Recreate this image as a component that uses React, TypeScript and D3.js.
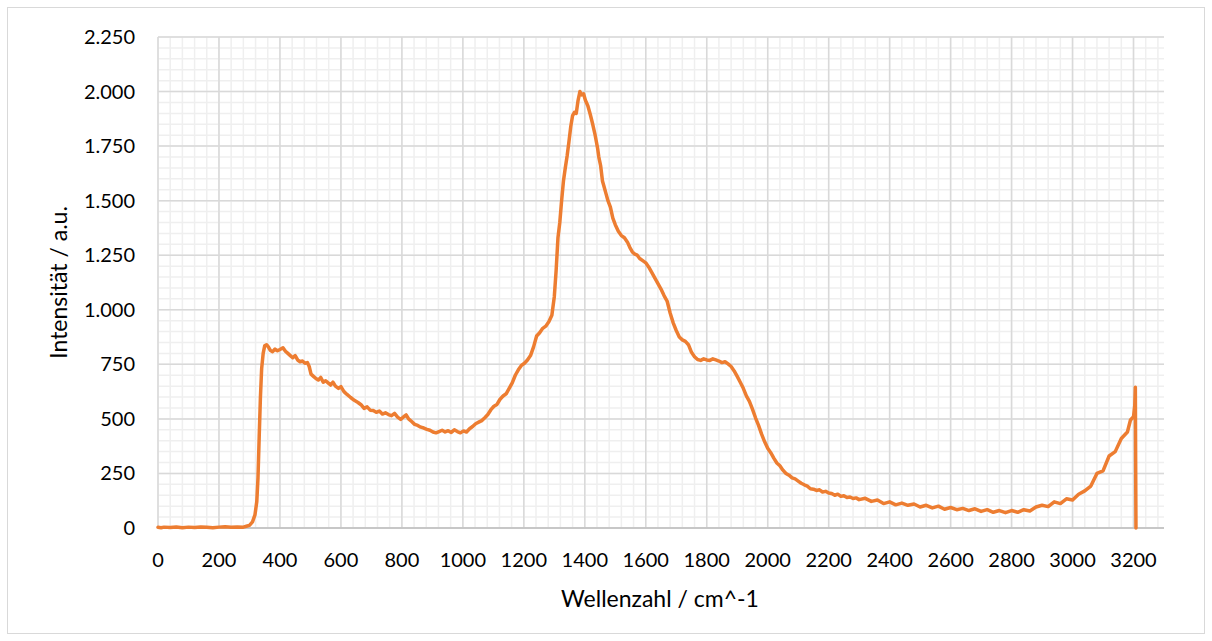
import React from "react";
import * as d3 from "d3";

const wavenumbers: number[] = [
  0, 10, 20, 40, 60, 80, 100, 120, 140, 160, 180, 200, 220, 240, 260, 280, 290, 300, 310, 318,
  324, 328, 332, 336, 340, 345, 350, 356, 362, 368, 376, 384, 392, 400, 410, 418, 426, 434, 442, 450,
  458, 466, 474, 482, 490, 496, 502, 510, 518, 526, 534, 542, 550, 558, 566, 574, 582, 592, 600, 610,
  620, 632, 644, 656, 666, 676, 686, 696, 706, 716, 726, 736, 746, 756, 766, 776, 786, 796, 806, 814,
  822, 832, 842, 852, 862, 872, 882, 892, 902, 912, 922, 932, 942, 952, 962, 972, 982, 992, 1002, 1012,
  1022, 1032, 1042, 1052, 1062, 1072, 1082, 1092, 1102, 1112, 1122, 1132, 1142, 1152, 1162, 1172, 1182, 1192, 1202, 1212,
  1222, 1232, 1242, 1252, 1262, 1272, 1282, 1292, 1300, 1306, 1312, 1318, 1324, 1330, 1336, 1342, 1348, 1354, 1360, 1366,
  1372, 1378, 1384, 1390, 1396, 1402, 1410, 1418, 1426, 1434, 1442, 1446, 1452, 1458, 1464, 1470, 1476, 1484, 1492, 1500,
  1510, 1520, 1530, 1540, 1548, 1556, 1564, 1572, 1580, 1590, 1600, 1610, 1620, 1630, 1640, 1650, 1660, 1670, 1680, 1690,
  1700, 1710, 1720, 1730, 1740, 1750, 1760, 1770, 1780, 1790, 1800, 1810, 1820, 1830, 1840, 1850, 1860, 1870, 1880, 1890,
  1900, 1910, 1920, 1930, 1940, 1950, 1960, 1970, 1980, 1990, 2000, 2010, 2020, 2030, 2040, 2050, 2060, 2070, 2080, 2090,
  2100, 2110, 2120, 2130, 2140, 2150, 2160, 2170, 2180, 2190, 2200, 2210, 2220, 2230, 2240, 2250, 2260, 2270, 2280, 2290,
  2300, 2320, 2340, 2360, 2380, 2400, 2420, 2440, 2460, 2480, 2500, 2520, 2540, 2560, 2580, 2600, 2620, 2640, 2660, 2680,
  2700, 2720, 2740, 2760, 2780, 2800, 2820, 2840, 2860, 2880, 2900, 2920, 2940, 2960, 2980, 3000, 3020, 3040, 3060, 3080,
  3100, 3120, 3140, 3160, 3180, 3190, 3200, 3204, 3206, 3207, 3208,
];

const intensities: number[] = [
  3, 1, 4, 2, 5, 1, 4, 2, 5, 3, 1, 4, 6, 3, 5, 4, 8, 12, 28, 60,
  120, 230, 420, 600, 730, 800, 835, 840, 830, 815, 808, 820, 812, 818, 826, 810, 800, 790, 780, 790,
  770, 762, 765, 755, 758, 740, 705, 695, 685, 678, 690, 668, 675, 665, 655, 668, 650, 640, 648, 625,
  612, 598, 585, 575, 565, 548, 555, 540, 538, 530, 536, 522, 528, 520, 515, 525, 508, 498, 510, 518,
  500, 488, 475, 470, 462, 458, 452, 448, 440, 436, 442, 448, 440, 446, 438, 450, 442, 436, 445, 440,
  455, 465, 478, 485, 492, 505, 520, 542, 558, 566, 590, 605, 615, 640, 665, 700, 725, 745, 755, 770,
  790, 830, 880, 895, 915, 925, 945, 975, 1060, 1180, 1330, 1400, 1500, 1590, 1650, 1705, 1770, 1840, 1890, 1905,
  1900, 1960, 2000, 1985, 1990, 1960, 1935, 1895, 1850, 1800, 1740, 1700, 1660, 1590, 1560, 1530, 1500, 1470, 1420, 1390,
  1360, 1340, 1330, 1310, 1285, 1265, 1255, 1250, 1235, 1225, 1215, 1195, 1170, 1145, 1120, 1095, 1065, 1040, 985, 940,
  905, 875, 862, 855, 840, 805, 785, 772, 768, 775, 770, 768, 775, 770, 765, 758, 762, 752, 740, 720,
  695, 668, 640, 605, 580, 545, 505, 470, 430, 395, 365, 345, 320, 298, 285, 265, 250, 242, 230, 225,
  215, 205, 198, 192, 180, 178, 172, 175, 165, 168, 160, 158, 150, 155, 145, 148, 140, 142, 135, 138,
  130, 136, 122, 128, 112, 120, 106, 114, 104, 110, 96, 104, 92, 100, 86, 94, 84, 90, 80, 88,
  76, 84, 72, 80, 70, 80, 72, 84, 78, 96, 104, 98, 120, 112, 134, 128, 155, 170, 192, 250,
  262, 330, 350, 410, 440, 495, 510, 560, 645, 300, 0,
];

const xTickValues: number[] = [0, 200, 400, 600, 800, 1000, 1200, 1400, 1600, 1800, 2000, 2200, 2400, 2600, 2800, 3000, 3200];
const yTickValues: number[] = [0, 250, 500, 750, 1000, 1250, 1500, 1750, 2000, 2250];

const xTitle = "Wellenzahl / cm^-1";
const yTitle = "Intensität / a.u.";

const W = 1212;
const H = 641;
const M = { left: 158, right: 1164, top: 37, bottom: 528 };
const FONT = "Lato, 'Open Sans', sans-serif";

function fmtY(v: number): string {
  return d3.format(",")(v).replace(/,/g, ".");
}

export default function App() {
  const x = d3.scaleLinear().domain([0, 3300]).range([M.left, M.right]);
  const y = d3.scaleLinear().domain([0, 2250]).range([M.bottom, M.top]);

  const data = wavenumbers.map((w, i) => [w, intensities[i]] as [number, number]);
  const line = d3
    .line<[number, number]>()
    .x((d) => x(d[0]))
    .y((d) => y(d[1]));

  const xMinor = d3.range(0, 3300 + 1, 40);
  const yMinor = d3.range(0, 2250 + 1, 50);
  const xMajor = d3.range(0, 3300 + 1, 200);

  return (
    <svg width={W} height={H} style={{ position: "absolute", left: 0, top: 0 }}>
      <rect x={0} y={0} width={W} height={H} fill="#fff" />
      <rect x={7.5} y={7.5} width={1197} height={626} fill="#fff" stroke="#d9d9d9" strokeWidth={1} />
      <g>
        {xMinor.map((v) => (
          <line key={"xm" + v} x1={x(v)} x2={x(v)} y1={M.top} y2={M.bottom} stroke="#efefef" strokeWidth={1.5} />
        ))}
        {yMinor.map((v) => (
          <line key={"ym" + v} x1={M.left} x2={M.right} y1={y(v)} y2={y(v)} stroke="#efefef" strokeWidth={1.5} />
        ))}
        {xMajor.map((v) => (
          <line key={"xM" + v} x1={x(v)} x2={x(v)} y1={M.top} y2={M.bottom} stroke="#d9d9d9" strokeWidth={1.5} />
        ))}
        {yTickValues.map((v) => (
          <line key={"yM" + v} x1={M.left} x2={M.right} y1={y(v)} y2={y(v)} stroke="#d9d9d9" strokeWidth={1.5} />
        ))}
        <line x1={M.left} x2={M.right} y1={y(0)} y2={y(0)} stroke="#bfbfbf" strokeWidth={1.5} />
      </g>
      <path
        d={line(data) || ""}
        fill="none"
        stroke="#ED7D31"
        strokeWidth={3.5}
        strokeLinejoin="round"
        strokeLinecap="round"
      />
      <g fontFamily={FONT} fontSize={20} fill="#000">
        {xTickValues.map((v) => (
          <text key={"xt" + v} x={x(v)} y={567} textAnchor="middle">
            {String(v)}
          </text>
        ))}
        {yTickValues.map((v) => (
          <text key={"yt" + v} x={135} y={y(v) + 7} textAnchor="end">
            {fmtY(v)}
          </text>
        ))}
      </g>
      <text x={660} y={607} textAnchor="middle" fontFamily={FONT} fontSize={23} fill="#000">
        {xTitle}
      </text>
      <text
        transform={`translate(67, ${(M.top + M.bottom) / 2}) rotate(-90)`}
        textAnchor="middle"
        fontFamily={FONT}
        fontSize={23}
        fill="#000"
      >
        {yTitle}
      </text>
    </svg>
  );
}
